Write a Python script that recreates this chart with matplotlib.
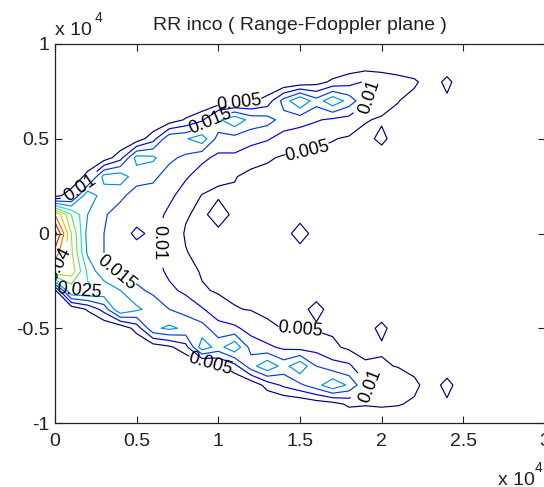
import numpy as np
import matplotlib
matplotlib.use("Agg")
import matplotlib.pyplot as plt
from matplotlib.colors import Normalize

plt.rcParams['font.family'] = ['Liberation Sans', 'DejaVu Sans']

# Range bins (m) and Doppler bins (Hz), top row first
range_bins = [0, 1000, 2000, 3000, 4000, 5000, 6000, 7000, 8000, 9000,
              10000, 11000, 12000, 13000, 14000, 15000, 16000, 17000, 18000,
              19000, 20000, 21000, 22000, 23000, 24000, 25000, 26000]
doppler_bins = [10000, 9000, 8000, 7000, 6000, 5000, 4000, 3000, 2000, 1000, 0,
                -1000, -2000, -3000, -4000, -5000, -6000, -7000, -8000, -9000, -10000]

# RR incoherent power (x 1e-3), one list per range bin, Doppler from +1e4 down to -1e4
power_cols = [
    [0, 0, 0, 0, 0, 0, 0, 0, 3, 45, 57, 48, 40, 4, 0, 0, 0, 0, 0, 0, 0],
    [0, 0, 0, 0, 0, 0, 0, 0, 8, 30, 35, 36, 38, 26, 1, 0, 0, 0, 0, 0, 0],
    [0, 0, 0, 0, 0, 0, 0, 7, 24, 20, 18, 19, 24, 26, 5.5, 0, 0, 0, 0, 0, 0],
    [0, 0, 0, 0, 0, 0, 2, 22, 17, 15.5, 15, 15, 16, 24, 12, 0, 0, 0, 0, 0, 0],
    [0, 0, 0, 0, 0, 0, 8, 23, 16, 13, 12, 12, 14, 20, 25, 1, 0, 0, 0, 0, 0],
    [0, 0, 0, 0, 0, 2, 22, 17, 13, 12, 9, 12, 13, 16, 21, 7, 0, 0, 0, 0, 0],
    [0, 0, 0, 0, 0, 8, 21, 16, 13, 12, 11, 11, 12, 14, 18, 19, 2, 0, 0, 0, 0],
    [0, 0, 0, 0, 2, 19, 16, 13, 11, 9, 8, 8, 9, 11, 15, 21, 4, 0, 0, 0, 0],
    [0, 0, 0, 0, 5.5, 19.5, 14, 10.5, 8, 5.4, 4.6, 5.2, 7, 9, 13, 19, 8, 0, 0, 0, 0],
    [0, 0, 0, 0, 9, 23, 11, 8, 4.8, 4, 3.5, 3.8, 4.5, 5.5, 10.5, 17, 23, 1, 0, 0, 0],
    [0, 0, 0, 1, 19, 13, 9, 5.5, 4.5, 7, 4, 3.5, 4, 4.5, 7, 12, 18, 4, 0, 0, 0],
    [0, 0, 0, 2, 24, 13, 9, 5.2, 4.5, 4, 3.5, 3.5, 3.8, 4.3, 5.2, 11, 24, 8, 0, 0, 0],
    [0, 0, 0, 4, 18, 12, 6.5, 4, 3.8, 3.5, 3.3, 3.3, 3.5, 4, 4.8, 8, 13, 18, 1, 0, 0],
    [0, 0, 0, 7, 17, 10.5, 5.5, 3.8, 3.5, 3.3, 3.2, 3.2, 3.3, 3.5, 4, 6, 11, 24, 7, 0, 0],
    [0, 0, 0, 17, 13, 8, 4.5, 3.5, 3.3, 3.2, 3.2, 3.2, 3.2, 3.3, 3.8, 4.8, 9, 18, 11, 0, 0],
    [0, 0, 1, 25, 12, 7, 4.5, 3.5, 3.2, 3.3, 7, 3.3, 3.2, 3.3, 4, 4.7, 8, 24, 14, 0.5, 0],
    [0, 0, 3, 17, 10.5, 6, 4, 3.3, 3.2, 3, 3.2, 3, 3.2, 3.5, 6, 4.5, 8, 15, 18, 2, 0],
    [0, 0, 6, 24, 9, 5.2, 3.8, 3.2, 3, 3, 3, 3, 3, 3.2, 3.8, 4.2, 6, 12, 24, 3, 0],
    [0, 1, 8, 18, 8, 4.5, 3.5, 3, 3, 2.8, 2.8, 2.8, 2.8, 3, 3.3, 4, 4, 11, 19, 6, 0],
    [0, 1, 10.5, 11, 5.3, 3.8, 3.2, 2.8, 2.6, 2.6, 2.6, 2.6, 2.6, 2.8, 3, 3.5, 4, 5.5, 11, 5.5, 0],
    [0, 1, 9, 7, 4.5, 6, 3, 2.6, 2.5, 2.4, 2.4, 2.4, 2.5, 2.6, 2.8, 6, 4.5, 5.5, 9, 6, 0],
    [0, 0.5, 7.5, 5.2, 3.5, 3, 2.6, 2.3, 2.2, 2.2, 2.2, 2.2, 2.2, 2.3, 2.6, 3, 3.3, 4.8, 8, 5.5, 0],
    [0, 0, 6, 3, 2.5, 2.2, 2, 2, 2, 2, 2, 2, 2, 2, 2, 2.2, 2.5, 3, 6.5, 4, 0],
    [0, 0, 2, 1.8, 1.8, 1.8, 1.8, 1.8, 1.8, 1.8, 1.8, 1.8, 1.8, 1.8, 1.8, 1.8, 1.8, 1.8, 2, 0.5, 0],
    [0, 1, 6.5, 4, 1.5, 1.5, 1.5, 1.5, 1.5, 1.5, 1.5, 1.5, 1.5, 1.5, 1.5, 1.5, 1.5, 1.5, 7, 4, 0],
    [0, 0, 1.5, 1.2, 1.2, 1.2, 1.2, 1.2, 1.2, 1.2, 1.2, 1.2, 1.2, 1.2, 1.2, 1.2, 1.2, 1.2, 1.5, 0.5, 0],
    [0, 0, 0.8, 0.8, 0.8, 0.8, 0.8, 0.8, 0.8, 0.8, 0.8, 0.8, 0.8, 0.8, 0.8, 0.8, 0.8, 0.8, 0.8, 0, 0],
]

levels = [0.005, 0.01, 0.015, 0.02, 0.025, 0.03, 0.035, 0.04, 0.045, 0.05, 0.055]

x_ticks = [0, 5000, 10000, 15000, 20000, 25000, 30000]
x_tick_labels = ['0', '0.5', '1', '1.5', '2', '2.5', '3']
y_ticks = [-10000, -5000, 0, 5000, 10000]
y_tick_labels = ['-1', '-0.5', '0', '0.5', '1']

title = 'RR inco ( Range-Fdoppler plane )'

# label anchor points per contour level (range, doppler)
label_spots = {
    0.005: [(11300, 7000), (15500, 4200), (9500, -6900), (15000, -5400)],
    0.01: [(1500, 2400), (6500, -500), (19300, 7200), (19300, -8000)],
    0.015: [(9500, 6000), (3700, -2200)],
    0.025: [(1500, -3100)],
    0.04: [(500, -1800)],
}

# ---------------------------------------------------------------------------
x = np.asarray(range_bins, dtype=float)
y = np.asarray(doppler_bins, dtype=float)[::-1]
z = (np.asarray(power_cols, dtype=float).T * 1e-3)[::-1]

fig = plt.figure(figsize=(5.44, 4.87), dpi=100)
fig.patch.set_facecolor('white')
ax = fig.add_axes([55 / 544, 1 - 423 / 487, 490 / 544, 379 / 487])

# jet line colours, slightly darkened
norm = Normalize(vmin=0.005, vmax=0.057)
line_colors = [tuple(np.array(plt.get_cmap('jet')(norm(v))[:3]) * 0.88) for v in levels]
cs = ax.contour(x, y, z, levels=levels, colors=line_colors, linewidths=0.85)

# set up label styling once, then place each label on its own level
cs.clabel(levels=cs.levels, manual=[], inline=True, inline_spacing=3,
          fontsize=13, colors='k', fmt=lambda v: f'{v:g}')
for lev, spots in label_spots.items():
    idx = int(np.argmin(np.abs(np.asarray(cs.levels) - lev)))
    cs.labelIndiceList = [idx]
    for px, py in spots:
        cs.add_label_near(px, py, inline=True, inline_spacing=3)

ax.set_xlim(0, 30000)
ax.set_ylim(-10000, 10000)
ax.set_xticks(x_ticks)
ax.set_xticklabels(x_tick_labels)
ax.set_yticks(y_ticks)
ax.set_yticklabels(y_tick_labels)
ax.tick_params(direction='in', length=5, width=0.8, top=True, right=True,
               labelsize=14, colors='#222222')
ax.tick_params(axis='x', pad=7)
ax.tick_params(axis='y', pad=4)
for sp in ax.spines.values():
    sp.set_linewidth(0.9)
    sp.set_color('#222222')

ax.set_title(title, fontsize=14, pad=10, color='#222222')

# axis multipliers
fig.text(55 / 544, 1 - 35 / 487, 'x 10', fontsize=14, ha='left', va='baseline', color='#222222')
fig.text(95 / 544, 1 - 22 / 487, '4', fontsize=10, ha='left', va='baseline', color='#222222')
fig.text(498 / 544, 1 - 485 / 487, 'x 10', fontsize=14, ha='left', va='baseline', color='#222222')
fig.text(535 / 544, 1 - 472 / 487, '4', fontsize=10, ha='left', va='baseline', color='#222222')

fig.savefig('out.png', dpi=100, facecolor='white')
